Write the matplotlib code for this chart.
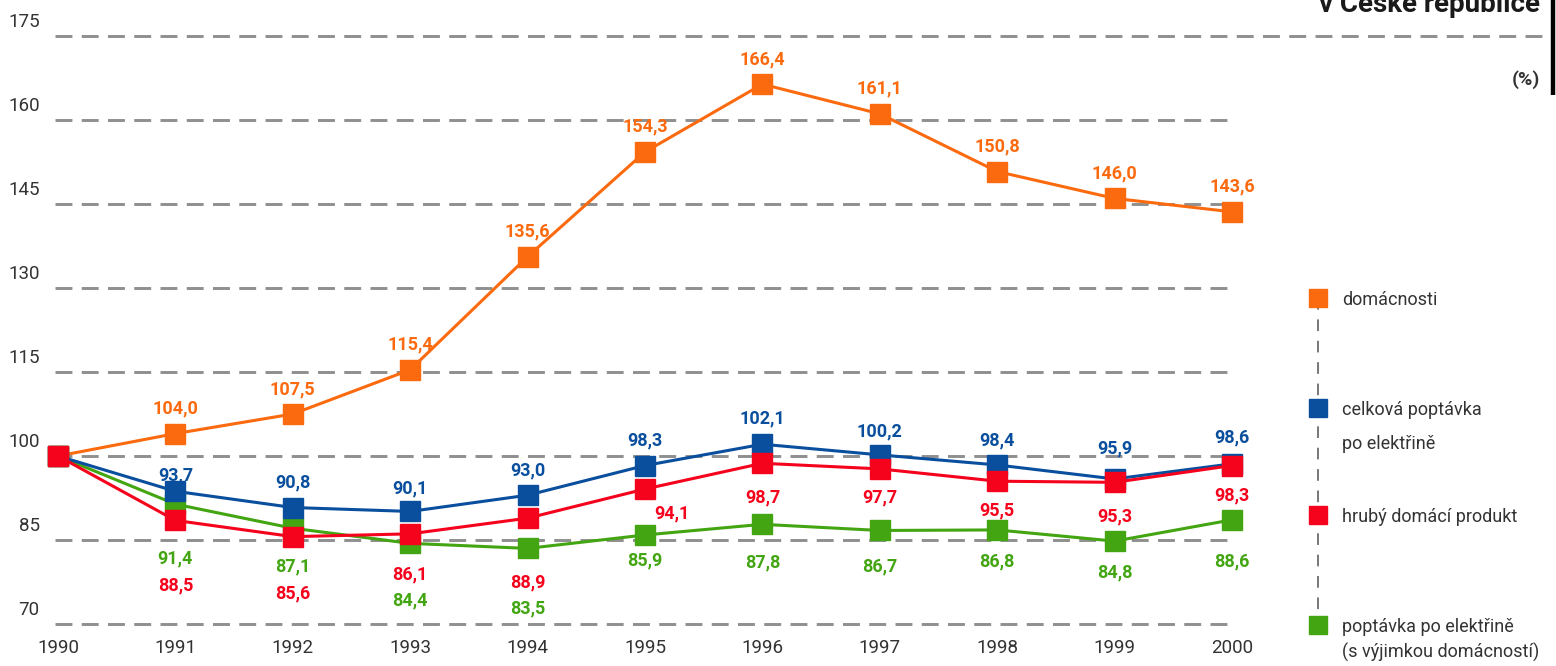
import matplotlib
matplotlib.use("Agg")
import matplotlib.pyplot as plt
from matplotlib.transforms import ScaledTranslation

plt.rcParams["font.family"] = ["Roboto", "DejaVu Sans"]

years = [1990, 1991, 1992, 1993, 1994, 1995, 1996, 1997, 1998, 1999, 2000]
households = [100.0, 104.0, 107.5, 115.4, 135.6, 154.3, 166.4, 161.1, 150.8, 146.0, 143.6]
total_demand = [100.0, 93.7, 90.8, 90.1, 93.0, 98.3, 102.1, 100.2, 98.4, 95.9, 98.6]
gdp = [100.0, 88.5, 85.6, 86.1, 88.9, 94.1, 98.7, 97.7, 95.5, 95.3, 98.3]
demand_ex_households = [100.0, 91.4, 87.1, 84.4, 83.5, 85.9, 87.8, 86.7, 86.8, 84.8, 88.6]

series_names = [
    ["domácnosti"],
    ["celková poptávka", "po elektřině"],
    ["hrubý domácí produkt"],
    ["poptávka po elektřině", "(s výjimkou domácností)"],
]
y_ticks = [70, 85, 100, 115, 130, 145, 160, 175]

ORANGE = "#fb6a0e"
BLUE = "#0a4f9e"
RED = "#f5021c"
GREEN = "#43a512"
TEXT = "#333333"
GRID = "#8f8f8f"

# label offsets in pixels (dx, dy) relative to each point, 1990 unlabelled
off_households = [None] + [(0, 25)] * 10
off_total = [None, (0, 16), (0, 25), (0, 23), (0, 25), (0, 25), (0, 26), (0, 23), (0, 25), (0, 31), (0, 26)]
off_gdp = [None, (0, -65), (0, -57), (0, -41), (0, -64), (27, -24), (0, -34), (0, -29), (0, -29), (0, -34), (0, -30)]
off_green = [None, (0, -54), (0, -38), (0, -57), (0, -60), (0, -25), (0, -38), (0, -36), (0, -32), (0, -31), (0, -42)]

W, H = 1556, 666
fig = plt.figure(figsize=(W / 100, H / 100), dpi=100)
ax = fig.add_axes([55 / W, (H - 624) / H, 1180 / W, 588 / H])
ax.set_xlim(1990 - 3 / 117.4, 2000 + 3 / 117.4)
ax.set_ylim(70, 175)
for s in ax.spines.values():
    s.set_visible(False)

# dashed grid; the top line runs on to the frame at the right
for v in y_ticks:
    xmax = (1548 - 55) / 1180 if v == 175 else 1.0
    ax.axhline(v, xmin=0, xmax=xmax, color=GRID, lw=2.1, dashes=(5.8, 3.2),
               clip_on=False, zorder=1)

ax.set_yticks(y_ticks)
ax.set_yticklabels([str(v) for v in y_ticks])
ax.set_xticks(years)
ax.set_xticklabels([str(y) for y in years])
ax.tick_params(length=0, labelsize=13.5, colors=TEXT)
ax.tick_params(axis="y", pad=11)
ax.tick_params(axis="x", pad=11)
shift = ScaledTranslation(0, 16 / 100, fig.dpi_scale_trans)
for lab in ax.get_yticklabels():
    lab.set_transform(lab.get_transform() + shift)

plot_order = [
    (households, ORANGE, off_households, 3),
    (demand_ex_households, GREEN, off_green, 4),
    (total_demand, BLUE, off_total, 5),
    (gdp, RED, off_gdp, 6),
]
for values, color, offsets, z in plot_order:
    ax.plot(years, values, color=color, lw=2.2, marker="s", ms=14,
            mec=color, mfc=color, clip_on=False, zorder=z)
    for x, v, off in zip(years, values, offsets):
        if off is None:
            continue
        ax.annotate(f"{v:.1f}".replace(".", ","), (x, v), xytext=off,
                    textcoords="offset pixels", ha="center", va="center",
                    color=color, fontsize=13, fontweight="bold", zorder=7)

# overlay in pixel coordinates for the heading and the legend
ov = fig.add_axes([0, 0, 1, 1], facecolor="none")
ov.set_xlim(0, W)
ov.set_ylim(H, 0)
ov.axis("off")

ov.text(1540, 12, "v České republice", ha="right", va="baseline",
        fontsize=20, fontweight="bold", color="#1a1a1a")
ov.text(1540, 80, "(%)", ha="right", va="center", fontsize=14,
        fontweight="bold", color=TEXT)
ov.plot([1553, 1553], [0, 95], color="black", lw=3.2, solid_capstyle="butt")

legend_y = [298, 408, 515, 625]
line_gap = [0, 34, 0, 25]
legend_colors = [ORANGE, BLUE, RED, GREEN]
ov.plot([1318, 1318], [legend_y[0], legend_y[-1]], color="#777777", lw=1.4,
        dashes=(6, 5))
for yy, gap, c, lines in zip(legend_y, line_gap, legend_colors, series_names):
    ov.plot([1318], [yy], marker="s", ms=13, color=c, mec=c)
    for i, line in enumerate(lines):
        ov.text(1342, yy + 2 + i * gap, line, ha="left", va="center",
                fontsize=13, color=TEXT)

fig.savefig("out.png", dpi=100)
